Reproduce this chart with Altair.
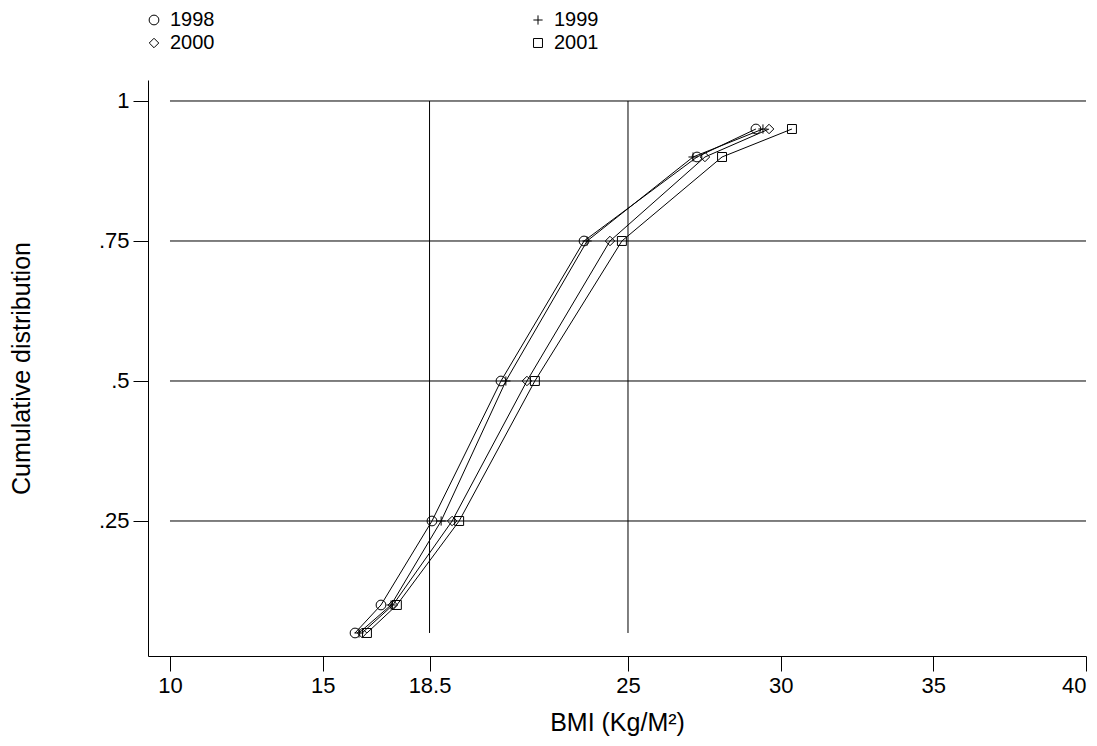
import altair as alt
import pandas as pd

years = ["1998", "1999", "2000", "2001"]
quantiles = [0.05, 0.10, 0.25, 0.50, 0.75, 0.90, 0.95]
bmi_1998 = [16.06, 16.91, 18.58, 20.84, 23.56, 27.26, 29.19]
bmi_1999 = [16.19, 17.24, 18.88, 21.00, 23.66, 27.13, 29.42]
bmi_2000 = [16.29, 17.30, 19.24, 21.69, 24.41, 27.52, 29.62]
bmi_2001 = [16.45, 17.43, 19.47, 21.95, 24.80, 28.08, 30.37]

x_ticks = [10, 15, 18.5, 25, 30, 35, 40]
y_ticks = [0.25, 0.5, 0.75, 1]
ref_x = [18.5, 25]

series = [bmi_1998, bmi_1999, bmi_2000, bmi_2001]
rows = []
for yr, vals in zip(years, series):
    for q, v in zip(quantiles, vals):
        rows.append({"year": yr, "q": q, "bmi": v})
df = pd.DataFrame(rows)

hgrid = pd.DataFrame({"y": y_ticks, "x1": [10] * len(y_ticks), "x2": [40] * len(y_ticks)})
vgrid = pd.DataFrame({"x": ref_x, "y1": [0.05] * len(ref_x), "y2": [1.0] * len(ref_x)})

FONT = "Liberation Sans"
xs = alt.Scale(domain=[9.2795, 40.0], nice=False, zero=False)
ys = alt.Scale(domain=[0.0089, 1.0375], nice=False, zero=False)

plus_path = "M-1,0L1,0M0,-1L0,1"
# legend order: column-major fill, so 1998/2000 in col 1, 1999/2001 in col 2
leg_order = ["1998", "2000", "1999", "2001"]
shape_map = {"1998": "circle", "1999": plus_path, "2000": "diamond", "2001": "square"}
size_map = {"1998": 95, "1999": 90, "2000": 80, "2001": 190}

xaxis = alt.Axis(values=x_ticks, title="BMI (Kg/M²)", grid=False, tickSize=15,
                 labelPadding=4, titlePadding=14, labelOverlap=False,
                 labelExpr="toString(datum.value)")
yaxis = alt.Axis(values=y_ticks, title="Cumulative distribution", grid=False, tickSize=15,
                 labelPadding=4, titlePadding=64,
                 labelExpr="datum.value == 1 ? '1' : replace(format(datum.value, '.2~f'), '0.', '.')")

hrules = alt.Chart(hgrid).mark_rule(color="black", strokeWidth=1).encode(
    x=alt.X("x1:Q", scale=xs, axis=xaxis),
    x2="x2:Q",
    y=alt.Y("y:Q", scale=ys, axis=yaxis),
)
vrules = alt.Chart(vgrid).mark_rule(color="black", strokeWidth=1).encode(
    x=alt.X("x:Q", scale=xs),
    y=alt.Y("y1:Q", scale=ys),
    y2="y2:Q",
)

lines = alt.Chart(df).mark_line(color="black", strokeWidth=1).encode(
    x=alt.X("bmi:Q", scale=xs),
    y=alt.Y("q:Q", scale=ys),
    detail="year:N",
    order="q:Q",
)

legend = alt.Legend(title=None, orient="none", legendX=-4, legendY=-70, columns=2,
                    columnPadding=313, rowPadding=3, labelFontSize=20, labelFont=FONT,
                    labelColor="black", padding=0, symbolStrokeColor="black",
                    symbolFillColor="transparent", symbolStrokeWidth=1, labelOffset=6)

points = alt.Chart(df).mark_point(color="black", filled=False, strokeWidth=1, opacity=1).encode(
    x=alt.X("bmi:Q", scale=xs),
    y=alt.Y("q:Q", scale=ys),
    shape=alt.Shape("year:N", scale=alt.Scale(domain=leg_order, range=[shape_map[y] for y in leg_order]),
                    legend=legend),
    size=alt.Size("year:N", scale=alt.Scale(domain=leg_order, range=[size_map[y] for y in leg_order]),
                  legend=legend),
)

chart = alt.layer(hrules, vrules, lines, points).properties(
    width=938, height=576,
    autosize="none",
    padding={"left": 140, "top": 72, "right": 3, "bottom": 82},
    background="white",
).configure_view(strokeWidth=0).configure_axis(
    domainColor="black", tickColor="black", labelColor="black", titleColor="black",
    labelFont=FONT, titleFont=FONT, labelFontSize=22, titleFontSize=25,
    titleFontWeight="normal", domainWidth=1, tickWidth=1,
)

chart.save("out.html", embed_options={"renderer": "svg", "actions": False})
